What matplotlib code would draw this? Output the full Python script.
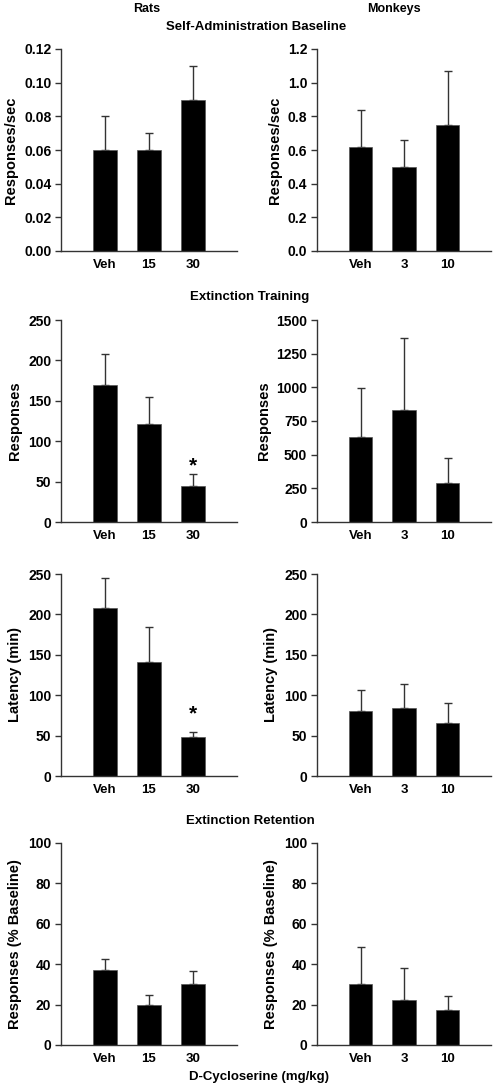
import matplotlib
matplotlib.use("Agg")
import matplotlib.pyplot as plt
import matplotlib.ticker as mticker

plt.rcParams['font.family'] = ['Liberation Sans', 'DejaVu Sans']
plt.rcParams['font.weight'] = 'bold'
plt.rcParams['font.size'] = 9

rat_doses = ["Veh", "15", "30"]
monkey_doses = ["Veh", "3", "10"]

# self-administration baseline
rat_base = [0.06, 0.06, 0.09]
rat_base_err = [0.02, 0.01, 0.02]
monkey_base = [0.62, 0.50, 0.75]
monkey_base_err = [0.22, 0.16, 0.32]

# extinction training: responses
rat_resp = [170, 121, 44]
rat_resp_err = [38, 34, 15]
monkey_resp = [630, 835, 288]
monkey_resp_err = [362, 532, 186]

# extinction training: latency
rat_lat = [208, 141, 48]
rat_lat_err = [37, 43, 6]
monkey_lat = [80, 84, 66]
monkey_lat_err = [26, 30, 24]

# extinction retention
rat_ret = [37, 20, 30]
rat_ret_err = [5.5, 5, 6.5]
monkey_ret = [30, 22.5, 17.5]
monkey_ret_err = [18.5, 15.5, 7]

W, H = 495, 1088
fig = plt.figure(figsize=(W / 100, H / 100), dpi=100)


def make_ax(x0, x1, y0, y1):
    # pixel box (top-left origin) -> figure fraction
    return fig.add_axes([x0 / W, 1 - y1 / H, (x1 - x0) / W, (y1 - y0) / H])


def panel(ax, labels, vals, errs, ymax, step, ylabel, fmt, stars=None):
    pos = list(range(len(vals)))
    ax.bar(pos, vals, width=0.53, color="black", edgecolor="#555555", linewidth=0.5, zorder=2)
    ax.errorbar(pos, vals, yerr=[[0] * len(errs), errs], fmt="none", ecolor="#333333",
                elinewidth=1, capsize=3, capthick=1, zorder=1)
    ax.set_xlim(-1, 3)
    ax.set_ylim(0, ymax)
    ax.set_yticks([i * step for i in range(int(round(ymax / step)) + 1)])
    ax.yaxis.set_major_formatter(mticker.FormatStrFormatter(fmt))
    ax.set_xticks(pos)
    ax.set_xticklabels(labels)
    ax.tick_params(axis="x", length=0, pad=6, labelsize=9.5)
    ax.tick_params(axis="y", length=4, width=1, direction="out", pad=3, color="#333333", labelsize=10)
    for s in ["top", "right"]:
        ax.spines[s].set_visible(False)
    for s in ["left", "bottom"]:
        ax.spines[s].set_color("#333333")
        ax.spines[s].set_linewidth(1)
    ax.set_ylabel(ylabel, fontsize=10.5, fontweight="bold", labelpad=4)
    if stars:
        for i, y in stars:
            ax.text(pos[i], y, "*", ha="center", va="center", fontsize=15, fontweight="bold")


L = (61, 237)
R = (317, 491)
rows = [(49, 251), (320, 522), (574, 776), (843, 1045)]

ax = make_ax(L[0], L[1], *rows[0])
panel(ax, rat_doses, rat_base, rat_base_err, 0.12, 0.02, "Responses/sec", "%.2f")
ax = make_ax(R[0], R[1], *rows[0])
panel(ax, monkey_doses, monkey_base, monkey_base_err, 1.2, 0.2, "Responses/sec", "%.1f")

ax = make_ax(L[0], L[1], *rows[1])
panel(ax, rat_doses, rat_resp, rat_resp_err, 250, 50, "Responses", "%d", stars=[(2, 70)])
ax = make_ax(R[0], R[1], *rows[1])
panel(ax, monkey_doses, monkey_resp, monkey_resp_err, 1500, 250, "Responses", "%d")

ax = make_ax(L[0], L[1], *rows[2])
panel(ax, rat_doses, rat_lat, rat_lat_err, 250, 50, "Latency (min)", "%d", stars=[(2, 77)])
ax = make_ax(R[0], R[1], *rows[2])
panel(ax, monkey_doses, monkey_lat, monkey_lat_err, 250, 50, "Latency (min)", "%d")

ax = make_ax(L[0], L[1], *rows[3])
panel(ax, rat_doses, rat_ret, rat_ret_err, 100, 20, "Responses (% Baseline)", "%d")
ax = make_ax(R[0], R[1], *rows[3])
panel(ax, monkey_doses, monkey_ret, monkey_ret_err, 100, 20, "Responses (% Baseline)", "%d")

fig.text(147 / W, 1 - 9 / H, "Rats", ha="center", va="center", fontsize=9, fontweight="bold")
fig.text(394 / W, 1 - 9 / H, "Monkeys", ha="center", va="center", fontsize=9, fontweight="bold")
fig.text(256 / W, 1 - 27 / H, "Self-Administration Baseline", ha="center", va="center", fontsize=9.5, fontweight="bold")
fig.text(250 / W, 1 - 297 / H, "Extinction Training", ha="center", va="center", fontsize=9.5, fontweight="bold")
fig.text(250 / W, 1 - 821 / H, "Extinction Retention", ha="center", va="center", fontsize=9.5, fontweight="bold")
fig.text(259 / W, 1 - 1077 / H, "D-Cycloserine (mg/kg)", ha="center", va="center", fontsize=9.5, fontweight="bold")

fig.savefig("out.png", dpi=100)
